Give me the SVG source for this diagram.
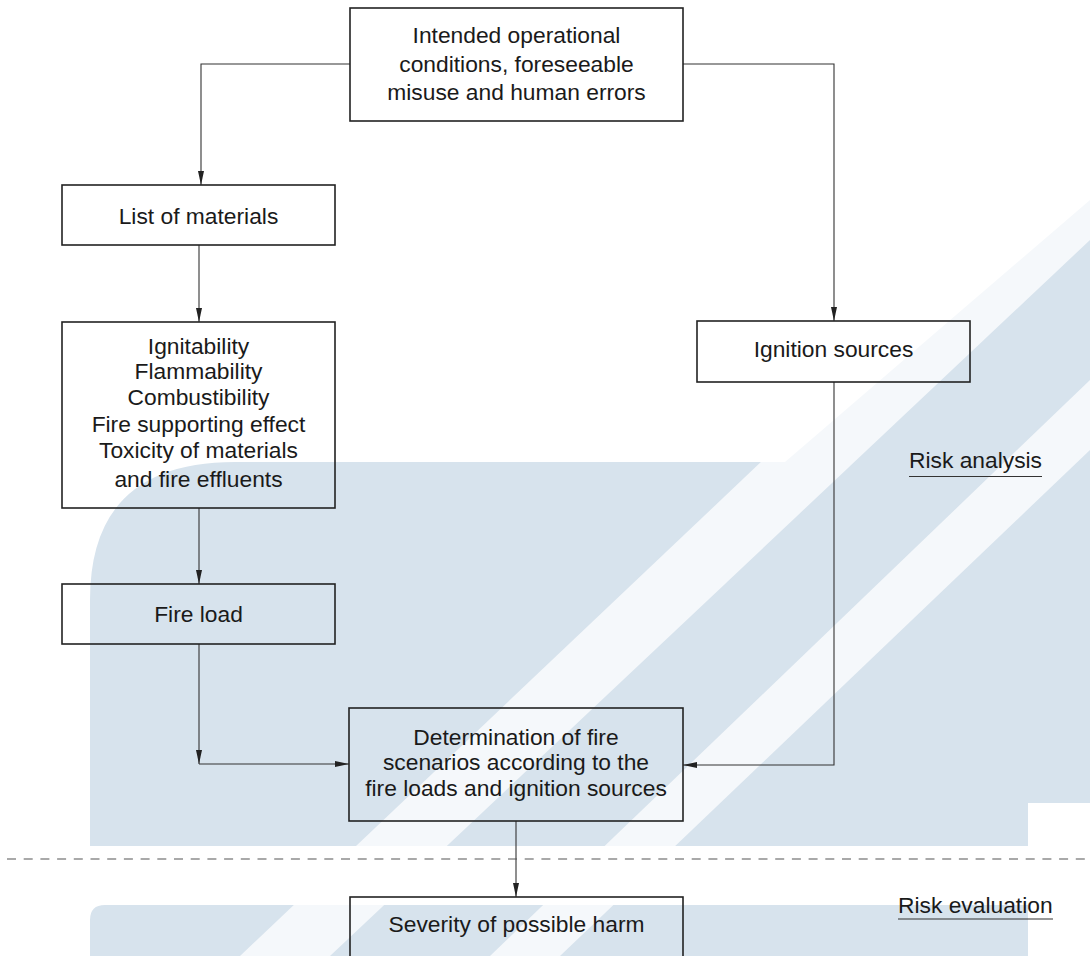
<svg xmlns="http://www.w3.org/2000/svg" width="1090" height="956" viewBox="0 0 1090 956">
<style>
.box{fill:none;stroke:#222;stroke-width:1.6}
.con{fill:none;stroke:#333;stroke-width:1.1}
.t{font-family:"Liberation Sans",Arial,sans-serif;font-size:22.8px;fill:#1a1a1a;text-anchor:middle}
.lbl{font-family:"Liberation Sans",Arial,sans-serif;font-size:22.8px;fill:#1a1a1a}
.ul{stroke:#333;stroke-width:1.2}
.wm{fill:#d7e3ed}
.ws{fill:#ffffff;opacity:0.75}
</style>
<defs>
<marker id="arr" viewBox="0 0 14 6" refX="14" refY="3" markerWidth="14" markerHeight="6" markerUnits="userSpaceOnUse" orient="auto">
<path d="M0,0 L14,3 L0,6 Z" fill="#222"/>
</marker>
</defs>
<rect width="1090" height="956" fill="#ffffff"/>
<g id="watermark">
<path class="wm" d="M90,846 V600 Q90,462 235,462 H785 L1090,200 V803 H1028 V956 H90 V920 Q90,905 105,905 H1028 V846 Z"/>
<path class="ws" d="M1090,150 L1090,240 L330,956 L240,956 Z"/>
<path class="ws" d="M1090,380 L1090,450 L560,956 L490,956 Z"/>
<path class="ws" d="M90,846 H1028 V905 H90 Z"/>
</g>
<g id="connectors">
<path class="con" d="M350,64 H201 V185" marker-end="url(#arr)"/>
<path class="con" d="M683,64 H834 V321" marker-end="url(#arr)"/>
<path class="con" d="M199,245 V322" marker-end="url(#arr)"/>
<path class="con" d="M199,508 V584" marker-end="url(#arr)"/>
<path class="con" d="M199,644 V764" marker-end="url(#arr)"/>
<path class="con" d="M199,764 H349" marker-end="url(#arr)"/>
<path class="con" d="M834,382 V765 H683" marker-end="url(#arr)"/>
<path class="con" d="M516,821 V897" marker-end="url(#arr)"/>
</g>
<line x1="7" y1="859" x2="1090" y2="859" stroke="#555" stroke-width="1.2" stroke-dasharray="9 7.7"/>
<g id="n-top">
<rect class="box" x="350" y="8" width="333" height="113"/>
<text class="t" x="516.5" y="43">Intended operational</text>
<text class="t" x="516.5" y="72">conditions, foreseeable</text>
<text class="t" x="516.5" y="100">misuse and human errors</text>
</g>
<g id="n-list">
<rect class="box" x="62" y="185" width="273" height="60"/>
<text class="t" x="198.5" y="224">List of materials</text>
</g>
<g id="n-props">
<rect class="box" x="62" y="322" width="273" height="186"/>
<text class="t" x="198.5" y="354">Ignitability</text>
<text class="t" x="198.5" y="379">Flammability</text>
<text class="t" x="198.5" y="405">Combustibility</text>
<text class="t" x="198.5" y="432">Fire supporting effect</text>
<text class="t" x="198.5" y="458">Toxicity of materials</text>
<text class="t" x="198.5" y="487">and fire effluents</text>
</g>
<g id="n-ign">
<rect class="box" x="697" y="321" width="273" height="61"/>
<text class="t" x="833.5" y="357">Ignition sources</text>
</g>
<g id="n-fireload">
<rect class="box" x="62" y="584" width="273" height="60"/>
<text class="t" x="198.5" y="622">Fire load</text>
</g>
<g id="n-det">
<rect class="box" x="349" y="708" width="334" height="113"/>
<text class="t" x="516" y="745">Determination of fire</text>
<text class="t" x="516" y="770">scenarios according to the</text>
<text class="t" x="516" y="796">fire loads and ignition sources</text>
</g>
<g id="n-sev">
<rect class="box" x="350" y="897" width="333" height="80"/>
<text class="t" x="516.5" y="932">Severity of possible harm</text>
</g>
<g id="l-analysis">
<text class="lbl" x="909" y="468">Risk analysis</text>
<line class="ul" x1="909" y1="476.5" x2="1042" y2="476.5"/>
</g>
<g id="l-eval">
<text class="lbl" x="898" y="913">Risk evaluation</text>
<line class="ul" x1="898" y1="919" x2="1053" y2="919"/>
</g>
</svg>
